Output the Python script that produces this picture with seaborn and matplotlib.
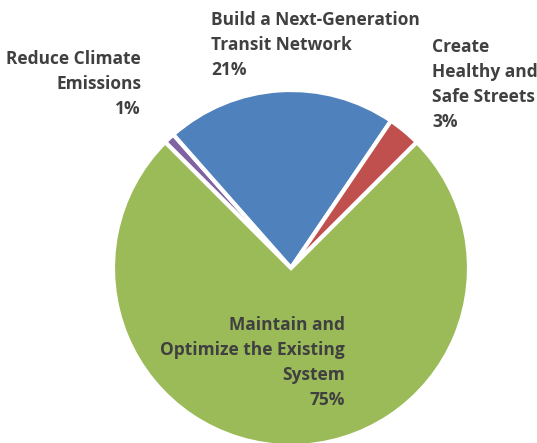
import matplotlib
matplotlib.use("Agg")
import matplotlib.pyplot as plt
import seaborn as sns

# slices, clockwise from the upper left
categories = ["Reduce Climate\nEmissions", "Build a Next-Generation\nTransit Network",
              "Create\nHealthy and\nSafe Streets", "Maintain and\nOptimize the Existing\nSystem"]
shares = [1, 21, 3, 75]
colors = ["#8064A2", "#4F81BD", "#C0504D", "#9BBB59"]

sns.set_theme(style="white")
plt.rcParams["font.family"] = ["Open Sans", "DejaVu Sans"]

W, H, dpi = 537, 443, 100
cx, cy, r = 291, 268, 178  # pie centre and radius in pixels

fig = plt.figure(figsize=(W / dpi, H / dpi), dpi=dpi)
ax = fig.add_axes([0, 0, 1, 1])
ax.pie(shares, colors=colors, startangle=135, counterclock=False,
       wedgeprops=dict(edgecolor="white", linewidth=3))
ax.set_xlim(-cx / r, (W - cx) / r)
ax.set_ylim((cy - H) / r, cy / r)
ax.set_aspect("auto")
ax.axis("off")


def px(x, y):
    return ((x - cx) / r, (cy - y) / r)


# label anchors (pixel coords of the top of the first line) and alignment
label_pos = [(141, 50, "right"), (211, 11, "left"), (432, 38, "left"), (345, 316, "right")]
for name, val, (x, y, ha) in zip(categories, shares, label_pos):
    ax.text(*px(x, y), f"{name}\n{val}%", ha=ha, va="top", fontsize=12.5,
            fontweight="bold", color="#404040", linespacing=1.5,
            transform=ax.transData)

fig.savefig("out.png", dpi=dpi)
